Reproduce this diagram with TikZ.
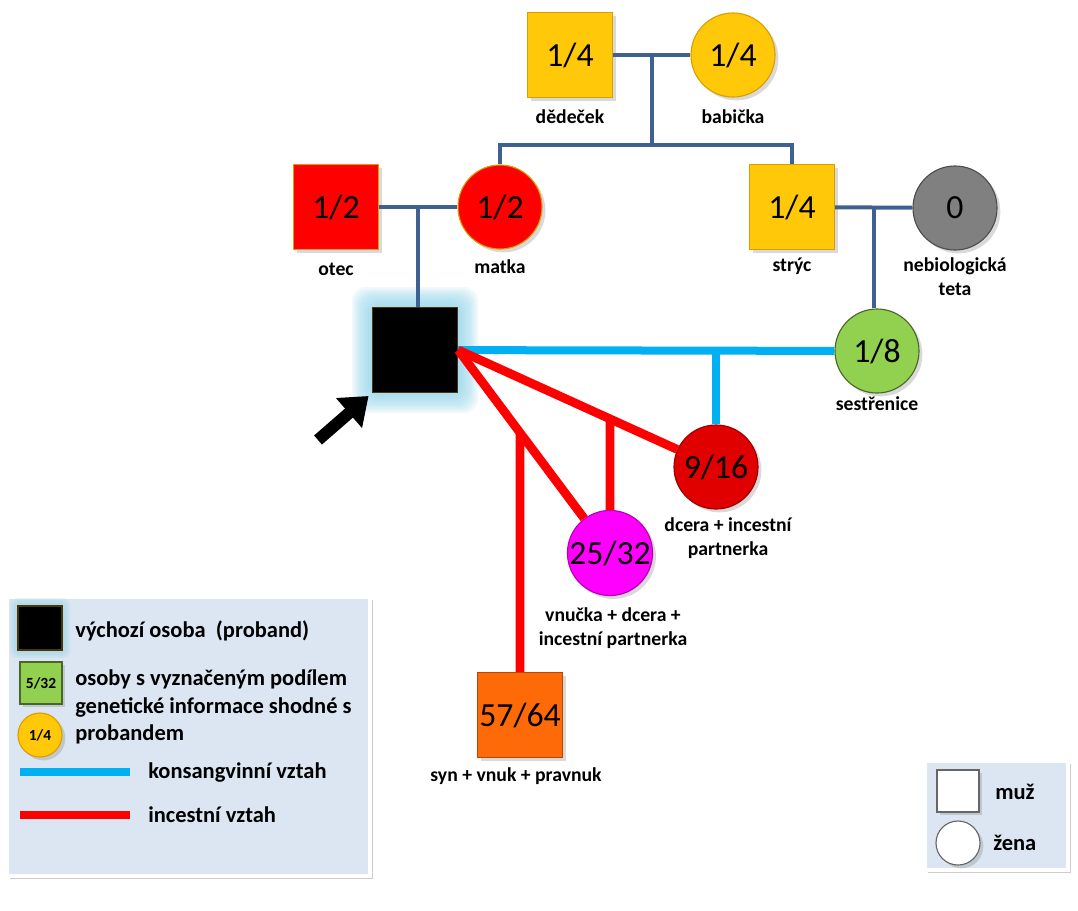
\documentclass[tikz,border=0pt]{standalone}
\usepackage{fontspec}
\setmainfont{Carlito}
\usetikzlibrary{arrows.meta, positioning, calc, shadows, backgrounds}
\definecolor{pdline}{HTML}{3E6191}
\definecolor{pdblue}{HTML}{00B0F0}
\definecolor{pdred}{HTML}{FF0000}
\definecolor{pdgold}{HTML}{FFC808}
\definecolor{pdgoldrim}{HTML}{D99E00}
\definecolor{pddarkred}{HTML}{E00000}
\definecolor{pdgray}{HTML}{808080}
\definecolor{pdgreen}{HTML}{92D050}
\definecolor{pdmagenta}{HTML}{FF00FF}
\definecolor{pdorange}{HTML}{FF6A08}
\definecolor{pdglow}{HTML}{8FD2E8}
\definecolor{pdlegend}{HTML}{DCE6F2}

\begin{document}
\begin{tikzpicture}[
  x=0.025cm, y=-0.025cm,
  every node/.style={font=\fontsize{14}{17}\selectfont\bfseries},
  male/.style={rectangle, draw, line width=0.8pt, minimum size=2.125cm, inner sep=0pt, drop shadow={opacity=0.3}, font=\fontsize{24}{28}\selectfont},
  female/.style={circle, draw, line width=0.8pt, minimum size=2.1cm, inner sep=0pt, drop shadow={opacity=0.3}, font=\fontsize{24}{28}\selectfont},
  probandbox/.style={rectangle, draw=pdgoldrim!35!black, line width=1pt, fill=black, minimum size=2.125cm, inner sep=0pt},
  tag/.style={align=center, inner sep=0pt},
  kin/.style={pdline, line width=0.1cm},
  konsang/.style={pdblue, line width=0.2cm},
  incest/.style={pdred, line width=0.22cm},
  pointer/.style={line width=0.3cm, shorten >=3pt, -{Triangle[width=0.95cm,length=0.65cm]}},
  legendbox/.style={fill=pdlegend, draw=white, line width=3pt, drop shadow={opacity=0.4}},
  legtext/.style={anchor=west, align=left, inner sep=0pt, font=\fontsize{16}{19.5}\selectfont\bfseries},
]
\useasboundingbox (0,0) rectangle (1078,910);

% Persons
\node[male, fill=pdgold, draw=pdgoldrim] (dedecek) at (570,55) {1/4};
\node[female, fill=pdgold, draw=pdgoldrim] (babicka) at (733,55) {1/4};
\node[male, fill=pdred, draw=pdgoldrim] (otec) at (336,207) {1/2};
\node[female, fill=pdred, draw=pdgoldrim] (matka) at (500,207) {1/2};
\node[male, fill=pdgold, draw=pdgoldrim] (stryc) at (792,207) {1/4};
\node[female, fill=pdgray, draw=pdgray!60!black] (teta) at (955,208) {0};
\node[female, fill=pdgreen, draw=pdgreen!50!black] (sestrenice) at (877,351) {1/8};
\node[probandbox] (proband) at (415,350) {};
\node[female, fill=pddarkred, draw=pddarkred!70!black] (dcera) at (716,467) {9/16};
\node[female, fill=pdmagenta, draw=pdmagenta!70!black] (vnucka) at (610,553) {25/32};
\node[male, fill=pdorange, draw=pdorange!70!black] (syn) at (520,715) {57/64};

% Glow round the proband
\begin{scope}[on background layer]
  \foreach \g in {20,18,...,2}
    \fill[pdglow, opacity=0.13, rounded corners=10pt] ([shift={(-\g,\g)}]proband.south west) rectangle ([shift={(\g,-\g)}]proband.north east);
\end{scope}

% Names
\node[tag] (dedecekL) at (570,117) {dědeček};
\node[tag] (babickaL) at (733,117) {babička};
\node[tag] (otecL) at (336,269) {otec};
\node[tag] (matkaL) at (500,267) {matka};
\node[tag] (strycL) at (792,266) {strýc};
\node[tag] (tetaL) at (955,277) {nebiologická\\teta};
\node[tag] (sestreniceL) at (877,404) {sestřenice};
\node[tag] (dceraL) at (728,538) {dcera + incestní\\partnerka};
\node[tag] (vnuckaL) at (613,628) {vnučka + dcera +\\incestní partnerka};
\node[tag] (synL) at (516,776) {syn + vnuk + pravnuk};

% Family lines
\coordinate (sibrow) at (0,145);
\draw[kin] (dedecek) -- (babicka) coordinate[midway] (gpmid);
\draw[kin] (gpmid) -- (gpmid |- sibrow);
\draw[kin] (matka.north) |- (gpmid |- sibrow) -| (stryc.north);
\draw[kin] (otec) -- (matka) coordinate[midway] (parmid);
\draw[kin] (parmid) -- (parmid |- proband.north);
\draw[kin] (stryc) -- (teta) coordinate[midway] (unmid);
\draw[kin] (unmid) -- (unmid |- sestrenice.north);

% Consanguine line
\draw[konsang] (proband) -- (sestrenice);
\draw[konsang] (dcera.north |- proband.east) -- (dcera.north);

% Incest lines
\draw[incest] (proband.east) -- (dcera);
\draw[incest] (proband.east) -- (vnucka);
\draw[incest] (intersection of proband.east--dcera.center and vnucka.north--vnucka.south) -- (vnucka.north);
\draw[incest] (intersection of proband.east--vnucka.center and syn.north--syn.south) -- (syn.north);

% Pointer
\coordinate (arrtail) at (318,440);
\draw[pointer] (arrtail) -- (proband.south west);

% Legend
\draw[legendbox] (7,597) rectangle (370,876);
\foreach \g in {8,6,4,2}
  \fill[pdglow, opacity=0.2, rounded corners=5pt] (18-\g,606-\g) rectangle (62+\g,650+\g);
\node[probandbox, minimum size=1.1cm] (legproband) at (40,628) {};
\node[legtext] (legprobandT) at (75,631) {výchozí osoba\ \ (proband)};
\node[male, fill=pdgreen, draw=pdgreen!50!black, minimum size=1.05cm, font=\fontsize{11}{13}\selectfont\bfseries] (legsquare) at (41,683) {5/32};
\node[female, fill=pdgold, draw=pdgoldrim, minimum size=1.1cm, font=\fontsize{11}{13}\selectfont\bfseries] (legcircle) at (40,735) {1/4};
\node[legtext] (legshareT) at (75,707) {osoby s vyznačeným podílem\\genetické informace shodné s\\probandem};
\draw[konsang, line width=0.18cm] (20,772) -- (130,772);
\node[legtext] (legkonsT) at (148,772) {konsangvinní vztah};
\draw[incest, line width=0.18cm] (20,815) -- (130,815);
\node[legtext] (legincT) at (148,815) {incestní vztah};

% Sex legend
\draw[legendbox] (925,761) rectangle (1068,870);
\node[male, fill=white, draw=gray!80!black, minimum size=1.05cm] (legmuz) at (958,791) {};
\node[female, fill=white, draw=gray!80!black, minimum size=1.1cm] (legzena) at (958,843) {};
\node[legtext] (legmuzT) at (995,792) {muž};
\node[legtext] (legzenaT) at (993,843) {žena};

\end{tikzpicture}
\end{document}
